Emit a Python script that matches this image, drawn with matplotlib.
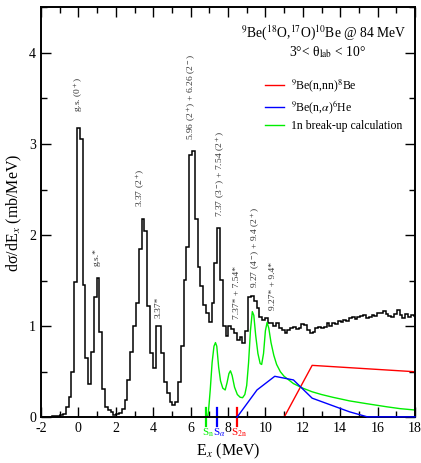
import numpy as np
import matplotlib
matplotlib.use("Agg")
import matplotlib.pyplot as plt

plt.rcParams['font.family'] = ['Liberation Serif', 'DejaVu Serif']
plt.rcParams['mathtext.fontset'] = 'stix'
plt.rcParams['axes.unicode_minus'] = False

# ---- data ----
bin_width = 0.15
bin_start = -2.025
counts = [
    0.0, 0.0, 0.0, 0.0, 0.01, 0.01, 0.01, 0.02, 0.04, 0.11,
    0.22, 0.50, 1.49, 3.18, 3.05, 1.45, 0.65, 0.37, 0.72, 1.32,
    1.53, 0.94, 0.31, 0.11, 0.08, 0.06, 0.03, 0.04, 0.05, 0.09,
    0.19, 0.41, 0.72, 1.00, 1.25, 1.85, 2.18, 2.04, 1.22, 0.71,
    0.54, 1.00, 1.00, 0.71, 0.39, 0.27, 0.17, 0.14, 0.17, 0.39,
    0.78, 1.51, 1.87, 2.88, 2.92, 2.18, 1.65, 1.44, 1.23, 1.15,
    1.05, 1.25, 1.69, 2.08, 1.51, 1.00, 0.89, 1.00, 0.97, 0.93,
    0.85, 0.88, 0.82, 0.95, 1.32, 1.33, 1.28, 1.20, 1.10, 1.07,
    1.09, 1.04, 1.04, 1.00, 1.03, 0.98, 0.96, 0.93, 0.96, 0.98,
    0.99, 0.97, 0.98, 1.02, 1.01, 0.96, 0.92, 0.94, 0.98, 0.99,
    0.98, 0.99, 1.03, 1.00, 1.04, 1.02, 1.06, 1.05, 1.07, 1.06,
    1.09, 1.10, 1.08, 1.10, 1.11, 1.12, 1.09, 1.10, 1.12, 1.11,
    1.15, 1.14, 1.17, 1.13, 1.11, 1.10, 1.13, 1.18, 1.12, 1.09,
    1.13, 1.10, 1.12, 1.11,
]

red_x = [11.0, 12.5, 18.0]
red_y = [0.0, 0.57, 0.50]

blue_x = [8.48, 9.55, 10.5, 11.5, 12.5, 14.5, 15.45, 18.0]
blue_y = [0.0, 0.30, 0.45, 0.41, 0.21, 0.06, 0.005, 0.005]

green_x = [6.90, 6.95, 7.05, 7.15, 7.25, 7.33, 7.40, 7.50, 7.60, 7.72,
           7.85, 7.95, 8.05, 8.13, 8.22, 8.35, 8.50, 8.65, 8.78, 8.90,
           9.00, 9.10, 9.20, 9.30, 9.38, 9.48, 9.60, 9.72, 9.80, 9.90,
           10.00, 10.09, 10.18, 10.30, 10.45, 10.60, 10.80, 11.00, 11.25, 11.50,
           12.00, 12.50, 13.00, 13.60, 14.50, 15.40, 16.50, 17.20, 18.00]
green_y = [0.00, 0.05, 0.30, 0.60, 0.78, 0.82, 0.78, 0.55, 0.40, 0.32,
           0.30, 0.38, 0.48, 0.51, 0.46, 0.33, 0.25, 0.22, 0.215, 0.25,
           0.35, 0.60, 0.95, 1.16, 1.12, 0.90, 0.70, 0.59, 0.58, 0.70,
           0.95, 1.04, 0.98, 0.82, 0.68, 0.58, 0.50, 0.45, 0.41, 0.37,
           0.32, 0.28, 0.25, 0.22, 0.18, 0.15, 0.115, 0.095, 0.08]

thresholds = [6.81, 7.41, 8.48]
threshold_labels = ["S$_{\\rm n}$", "S$_{\\alpha}$", "S$_{\\rm 2n}$"]
threshold_colors = ["#00ee00", "#0000ff", "#ff0000"]

peak_labels = ["g.s. (0$^+$)", "g.s.*", "3.37 (2$^+$)", "3.37*",
               "5.96 (2$^+$) + 6.26 (2$^-$)", "7.37 (3$^-$) + 7.54 (2$^+$)",
               "7.37* + 7.54*", "9.27 (4$^-$) + 9.4 (2$^+$)", "9.27* + 9.4*"]
peak_label_x = [0.0, 1.0, 3.34, 4.3, 6.07, 7.59, 8.48, 9.49, 10.43]
peak_label_y = [3.54, 1.76, 2.52, 1.21, 3.51, 2.67, 1.37, 1.86, 1.44]

# ---- plot ----
fig = plt.figure(figsize=(4.21, 4.63), dpi=100)
ax = fig.add_axes([41/421, 45.7/463, 374/421, 410/463])

edges = bin_start + bin_width * np.arange(len(counts) + 1)
ax.stairs(counts, edges, baseline=None, color='k', lw=1.1)

ax.plot(red_x, red_y, color='#ff0000', lw=1.0, label="$^9$Be(n,nn)$^8$Be")
ax.plot(blue_x, blue_y, color='#0000ff', lw=1.0, label="$^9$Be(n,$\\alpha$)$^6$He",
        clip_on=False, zorder=4)
ax.plot(green_x, green_y, color='#00ee00', lw=1.0, label="1n break-up calculation")

for xv, lab, c in zip(thresholds, threshold_labels, threshold_colors):
    ax.plot([xv, xv], [-0.1, 0.1], color=c, lw=1.6, clip_on=False)
    ax.text(xv + 0.1, -0.165, lab, color=c, ha='center', va='center', fontsize=8)

for lab, xv, yv in zip(peak_labels, peak_label_x, peak_label_y):
    ax.text(xv, yv, lab, rotation=90, ha='center', va='center', fontsize=6.8, color='#333333')

ax.text(13.1, 4.22, "$^9$Be($^{18}$O,$^{17}$O)$^{10}$Be @ 84 MeV", ha='center', va='center', fontsize=9.8)
ax.text(13.3, 4.01, "3°< θ$_{\\rm lab}$ < 10°", ha='center', va='center', fontsize=9.8)

leg = ax.legend(loc='upper left', bbox_to_anchor=(0.57, 0.855), frameon=False,
                fontsize=8.5, handlelength=1.6, handletextpad=0.6, labelspacing=0.35)

ax.set_xlim(-2, 18)
ax.set_ylim(0, 4.5)
ax.set_xticks(np.arange(-2, 19, 2))
ax.set_xticks(np.arange(-2, 19, 1), minor=True)
ax.set_yticks([0, 1, 2, 3, 4])
ax.set_yticks(np.arange(0, 4.6, 0.5), minor=True)
ax.tick_params(which='both', direction='in', top=True, right=True, labelsize=10)
ax.tick_params(which='major', length=7, width=1.0)
ax.tick_params(which='minor', length=4, width=1.0)
for s in ax.spines.values():
    s.set_linewidth(1.4)

ax.set_xlabel("E$_x$ (MeV)", fontsize=11.5, labelpad=5)
ax.set_ylabel("dσ/dE$_x$ (mb/MeV)", fontsize=11.5, labelpad=4)

fig.savefig("out.png", dpi=100)
